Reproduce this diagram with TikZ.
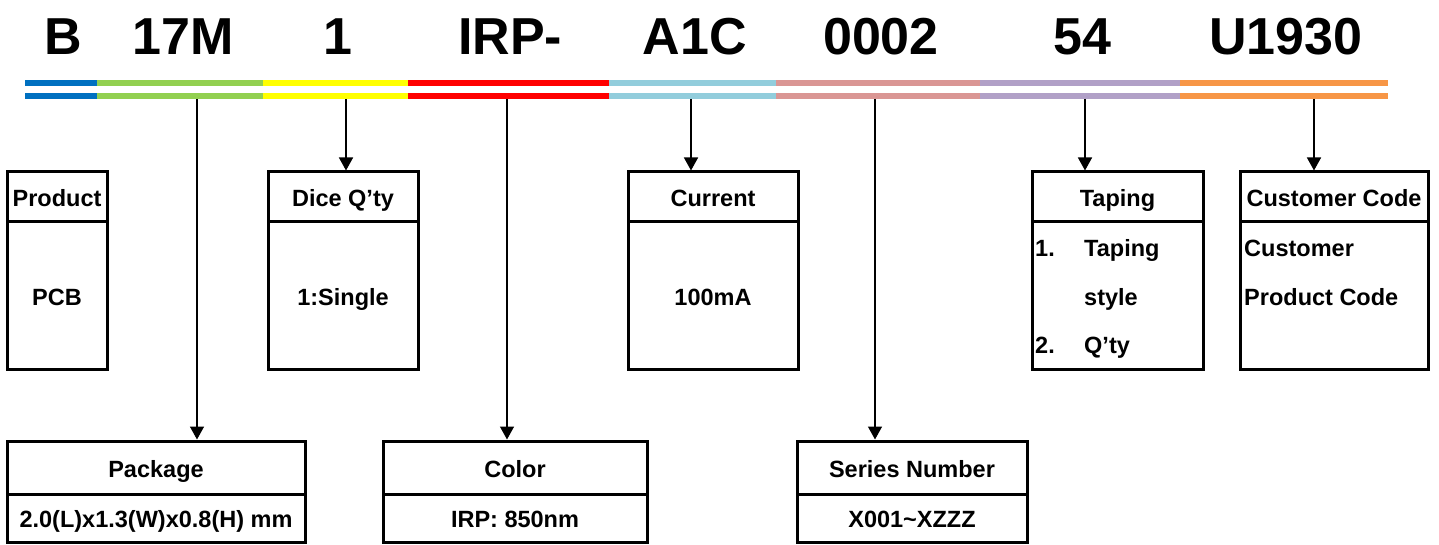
\documentclass[tikz,border=0pt]{standalone}
\usepackage{fontspec}
\setmainfont{Liberation Sans}
\usetikzlibrary{arrows.meta}
\definecolor{cBlue}{HTML}{0070C0}
\definecolor{cGreen}{HTML}{92D050}
\definecolor{cYellow}{HTML}{FFFF00}
\definecolor{cRed}{HTML}{FF0000}
\definecolor{cLBlue}{HTML}{92CDDC}
\definecolor{cPink}{HTML}{DA9694}
\definecolor{cPurple}{HTML}{B1A0C7}
\definecolor{cOrange}{HTML}{F79646}
\begin{document}
\begin{tikzpicture}[x=1pt,y=-1pt,
  txt/.style={font=\bfseries\fontsize{23.5}{28}\selectfont},
  bigtxt/.style={font=\bfseries\fontsize{52}{60}\selectfont, anchor=base, inner sep=0},
  cell/.style={draw, line width=3pt, inner sep=0, outer sep=0, anchor=north west, txt,
     text height=19pt, text depth=0pt, align=center},
  ltxt/.style={txt, anchor=base west, inner sep=0},
  arr/.style={line width=1.5pt, shorten >=1.5pt, -{Triangle[length=13pt,width=14pt]}}]
\useasboundingbox (0,0) rectangle (1439,545);

% headline
\node[bigtxt] (hB) at (63,55) {B};
\node[bigtxt] (h17M) at (183,55) {17M};
\node[bigtxt] (h1) at (338,55) {1};
\node[bigtxt] (hIRP) at (510,55) {IRP-};
\node[bigtxt] (hA1C) at (695,55) {A1C};
\node[bigtxt] (h0002) at (881,55) {0002};
\node[bigtxt] (h54) at (1082,55) {54};
\node[bigtxt] (hU) at (1286,55) {U1930};

% colour bars
\foreach \a/\b/\c in {25/97/cBlue, 97/263/cGreen, 263/408/cYellow, 408/609/cRed,
   609/776/cLBlue, 776/980/cPink, 980/1180/cPurple, 1180/1388/cOrange}{
  \fill[\c] (\a,80.5) rectangle (\b,86);
  \fill[\c] (\b,93.5) rectangle (\a,99);
}

% upper row boxes
\node[cell, minimum width=100pt, minimum height=50pt] (prodH) at (7,172) {Product};
\node[cell, minimum width=100pt, minimum height=147pt] (prodB) at (prodH.south west) {PCB};
\node[cell, minimum width=150pt, minimum height=50pt] (diceH) at (268,172) {Dice Q’ty};
\node[cell, minimum width=150pt, minimum height=147pt] (diceB) at (diceH.south west) {1:Single};
\node[cell, minimum width=170pt, minimum height=50pt] (currH) at (628,172) {Current};
\node[cell, minimum width=170pt, minimum height=147pt] (currB) at (currH.south west) {100mA};
\node[cell, minimum width=171pt, minimum height=50pt] (tapH) at (1032,172) {Taping};
\node[cell, minimum width=171pt, minimum height=147pt] (tapB) at (tapH.south west) {};
\node[cell, minimum width=188pt, minimum height=50pt] (custH) at (1240,172) {Customer Code};
\node[cell, minimum width=188pt, minimum height=147pt] (custB) at (custH.south west) {};

\node[ltxt] (t1n) at (1035,257) {1.};
\node[ltxt] (t1a) at (1084,257) {Taping};
\node[ltxt] (t1b) at (1084,305) {style};
\node[ltxt] (t2n) at (1035,353) {2.};
\node[ltxt] (t2a) at (1084,353) {Q’ty};
\node[ltxt] (c1) at (1244,257) {Customer};
\node[ltxt] (c2) at (1244,305) {Product Code};

% lower row boxes
\node[cell, minimum width=298pt, minimum height=53pt] (pkgH) at (7,441) {Package};
\node[cell, minimum width=298pt, minimum height=48pt] (pkgB) at (pkgH.south west) {2.0(L)x1.3(W)x0.8(H) mm};
\node[cell, minimum width=264pt, minimum height=53pt] (colH) at (383,441) {Color};
\node[cell, minimum width=264pt, minimum height=48pt] (colB) at (colH.south west) {IRP: 850nm};
\node[cell, minimum width=230pt, minimum height=53pt] (serH) at (797,441) {Series Number};
\node[cell, minimum width=230pt, minimum height=48pt] (serB) at (serH.south west) {X001\char`~XZZZ};

% arrows
\coordinate (aPkg) at (197,99);
\coordinate (aDice) at (346,99);
\coordinate (aCol) at (507,99);
\coordinate (aCurr) at (691,99);
\coordinate (aSer) at (875,99);
\coordinate (aTap) at (1085,99);
\coordinate (aCust) at (1314,99);
\draw[arr] (aPkg) -- (aPkg |- pkgH.north);
\draw[arr] (aDice) -- (aDice |- diceH.north);
\draw[arr] (aCol) -- (aCol |- colH.north);
\draw[arr] (aCurr) -- (aCurr |- currH.north);
\draw[arr] (aSer) -- (aSer |- serH.north);
\draw[arr] (aTap) -- (aTap |- tapH.north);
\draw[arr] (aCust) -- (aCust |- custH.north);
\end{tikzpicture}
\end{document}
